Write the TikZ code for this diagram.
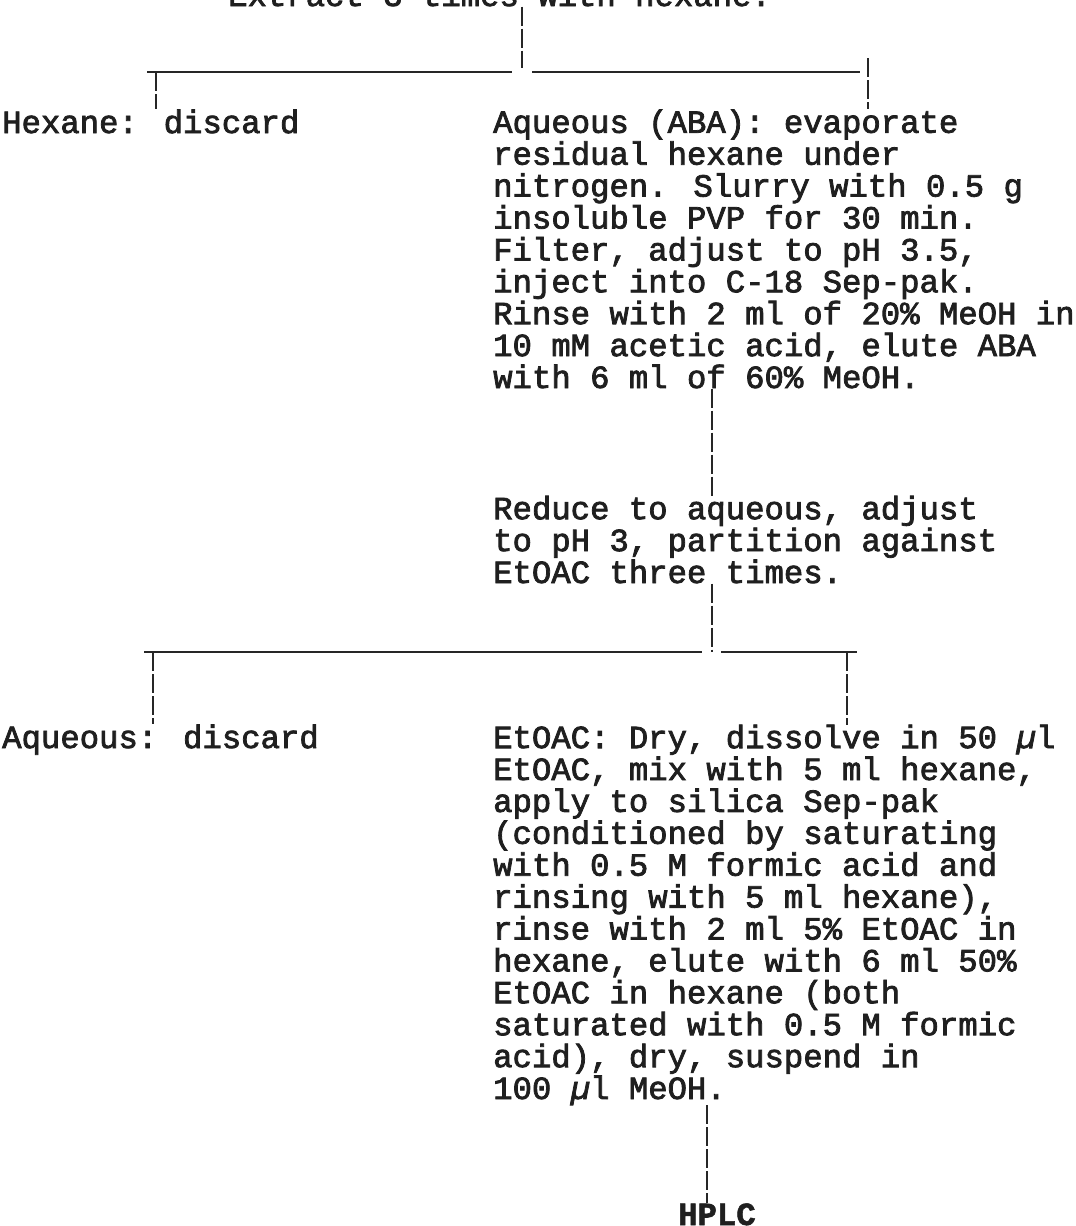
\documentclass[tikz,border=0pt]{standalone}
\usepackage{fontspec}
\newfontfamily\typefont[FakeBold=2.4]{Liberation Mono}
\newfontfamily\typebold[FakeBold=1.6]{Liberation Mono Bold}
\usepackage{tikz}
\usetikzlibrary{calc,positioning}

% base west of a multi-line node is its last line
\tikzset{
  stage/.style={anchor=base west,align=left,inner sep=0pt,text=black!88,
    font=\typefont\fontsize{32.3}{31.9}\selectfont},
  bar/.style={line width=2.8pt,black!85},
  tick/.style={line width=1.9pt,black!85,dash pattern=on 19pt off 3pt},
}
\newcommand{\mul}{{\itshape µ}}

\begin{document}
\begin{tikzpicture}[x=1pt,y=-1pt]
\useasboundingbox (0,0) rectangle (1076,1226);
\clip (0,0) rectangle (1076,1226);

% steps
\node[stage] (extract) at (228,6) {Extract 3 times with hexane.};
\node[stage] (hexane) at (2,133) {Hexane: discard};
\node[stage] (aba) at (493,388) {Aqueous (ABA): evaporate\\
residual hexane under\\
nitrogen. Slurry with 0.5 g\\
insoluble PVP for 30 min.\\
Filter, adjust to pH 3.5,\\
inject into C-18 Sep-pak.\\
Rinse with 2 ml of 20\% MeOH in\\
10 mM acetic acid, elute ABA\\
with 6 ml of 60\% MeOH.};
\node[stage] (reduce) at (493,583) {Reduce to aqueous, adjust\\
to pH 3, partition against\\
EtOAC three times.};
\node[stage] (aqueous) at (2,748) {Aqueous: discard};
\node[stage] (etoac) at (493,1099) {EtOAC: Dry, dissolve in 50 \mul l\\
EtOAC, mix with 5 ml hexane,\\
apply to silica Sep-pak\\
(conditioned by saturating\\
with 0.5 M formic acid and\\
rinsing with 5 ml hexane),\\
rinse with 2 ml 5\% EtOAC in\\
hexane, elute with 6 ml 50\%\\
EtOAC in hexane (both\\
saturated with 0.5 M formic\\
acid), dry, suspend in\\
100 \mul l MeOH.};
\node[stage,font=\typebold\fontsize{32.3}{31.9}\selectfont] (hplc) at (678,1225) {HPLC};

% first split
\coordinate (split1) at (522,72);
\coordinate (left1) at (147,72);
\coordinate (right1) at (860,72);
\draw[tick] (split1 |- extract.south) -- ([yshift=4pt]split1);
\draw[bar] (left1) -- ([xshift=-10pt]split1);
\draw[bar] ([xshift=10pt]split1) -- (right1);
\draw[tick] ([xshift=9pt]left1) -- ([xshift=9pt]left1 |- hexane.north);
\draw[tick] ([xshift=8pt,yshift=14pt]right1) -- ([xshift=8pt]right1 |- aba.north);

% to partition
\coordinate (pass) at (712,0);
\draw[tick] (pass |- aba.south) -- (pass |- reduce.north);

% second split
\coordinate (split2) at (712,652);
\coordinate (left2) at (144,652);
\coordinate (right2) at (857,652);
\draw[tick] (split2 |- reduce.south) -- (split2);
\draw[bar] (left2) -- ([xshift=-10pt]split2);
\draw[bar] ([xshift=9pt]split2) -- (right2);
\draw[tick] ([xshift=9pt]left2) -- ([xshift=9pt]left2 |- aqueous.north);
\draw[tick] ([xshift=-10pt]right2) -- ([xshift=-10pt]right2 |- etoac.north);

% to HPLC
\coordinate (drop) at (707,0);
\draw[tick] (drop |- etoac.south) -- (drop |- hplc.north);
\end{tikzpicture}
\end{document}
